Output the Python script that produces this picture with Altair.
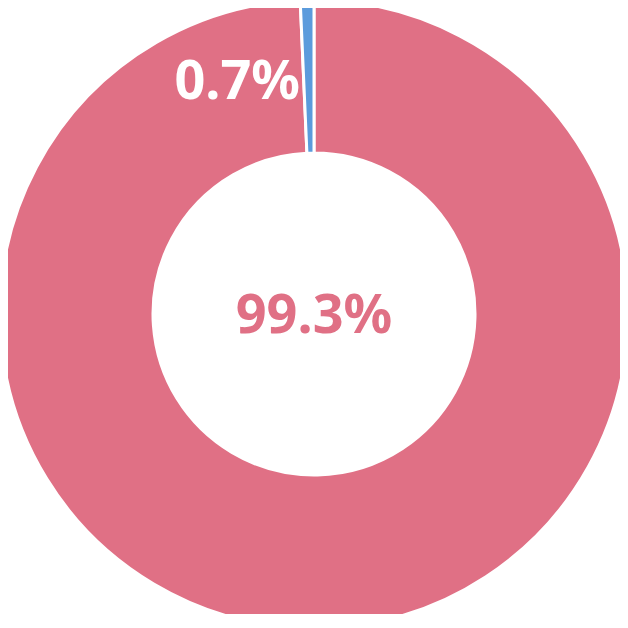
import altair as alt
import pandas as pd

categories = ["A", "B"]
values = [99.3, 0.7]
labels = ["99.3%", "0.7%"]
colors = ["#E07085", "#5B9BDC"]

df = pd.DataFrame({"cat": categories, "value": values, "label": labels, "order": [0, 1]})

W = 612
H = 606
CX = 306
CY = 306

base = alt.Chart(df)

arc = base.mark_arc(outerRadius=314, innerRadius=161, stroke="white", strokeWidth=3).encode(
    theta=alt.Theta("value:Q", stack=True),
    order=alt.Order("order:Q"),
    color=alt.Color("cat:N", scale=alt.Scale(domain=categories, range=colors), legend=None),
    x=alt.value(CX),
    y=alt.value(CY),
)

small_label = base.transform_filter(alt.datum.cat == "B").mark_text(
    radius=231, align="right", baseline="middle", dx=-19, dy=0,
    font="Noto Sans", fontWeight="bold", fontSize=54, color="white",
).encode(
    theta=alt.Theta("value:Q", stack=True),
    order=alt.Order("order:Q"),
    text="label:N",
    x=alt.value(CX),
    y=alt.value(CY),
)

center_label = base.transform_filter(alt.datum.cat == "A").mark_text(
    align="center", baseline="middle", dy=3,
    font="Noto Sans", fontWeight="bold", fontSize=54, color="#E07085",
).encode(
    text="label:N",
    x=alt.value(CX),
    y=alt.value(CY),
)

chart = alt.layer(arc, small_label, center_label).properties(
    width=W, height=H, padding=0, autosize=alt.AutoSizeParams(type="none")
).configure_view(stroke=None)

chart.save("out.html", embed_options={"renderer": "svg", "actions": False})
